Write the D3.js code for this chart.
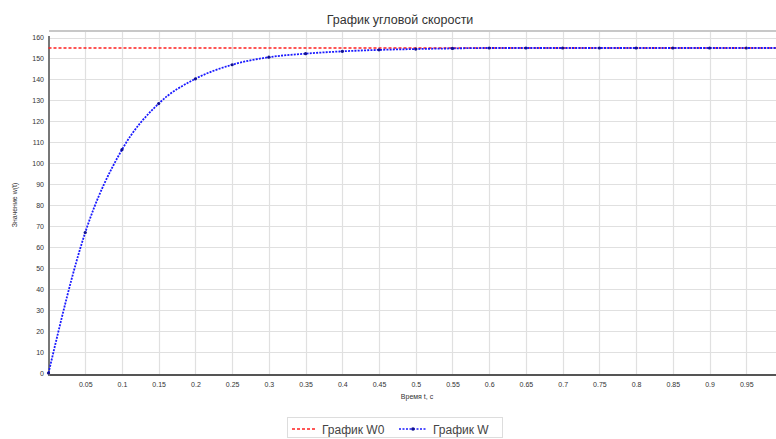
<!DOCTYPE html>
<html>
<head>
<meta charset="utf-8">
<script src="https://cdn.jsdelivr.net/npm/d3@7"></script>
<style>
  html, body { margin: 0; padding: 0; background: #fff; }
  svg { display: block; font-family: "Liberation Sans", Arial, sans-serif; }
</style>
</head>
<body>
<svg id="chart" width="776" height="439"></svg>
<script>
// Angular velocity step response: time (s) and w(t)
const timeValues = [0, 0.05, 0.1, 0.15, 0.2, 0.25, 0.3, 0.35, 0.4, 0.45, 0.5,
                    0.55, 0.6, 0.65, 0.7, 0.75, 0.8, 0.85, 0.9, 0.95, 1.0];
const wValues    = [0, 67, 106.5, 128.5, 140.3, 147, 150.6, 152.3, 153.4, 154.1, 154.5,
                    154.8, 155, 155, 155, 155, 155, 155, 155, 155, 155];
// Reference (steady-state) level W0
const w0Value = 155;
const xTicks = [0.05, 0.1, 0.15, 0.2, 0.25, 0.3, 0.35, 0.4, 0.45, 0.5,
                0.55, 0.6, 0.65, 0.7, 0.75, 0.8, 0.85, 0.9, 0.95];
const xTickLabels = ["0.05", "0.1", "0.15", "0.2", "0.25", "0.3", "0.35", "0.4", "0.45", "0.5",
                     "0.55", "0.6", "0.65", "0.7", "0.75", "0.8", "0.85", "0.9", "0.95"];
const yTicks = [0, 10, 20, 30, 40, 50, 60, 70, 80, 90, 100, 110, 120, 130, 140, 150, 160];
const titleText = "График угловой скорости";
const xTitle = "Время t, с";
const yTitle = "Значение w(t)";
const seriesNames = ["График W0", "График W"];

const svg = d3.select("#chart");
const W = 776;
const x = d3.scaleLinear().domain([0, 1]).range([48.5, 783]);
const y = d3.scaleLinear().domain([0, 160]).range([373, 37.5]);
const plotTop = 31, plotBottom = 375, plotLeft = 49;

// grid
const grid = svg.append("g");
grid.selectAll("line.v").data(xTicks).join("line")
  .attr("x1", d => Math.round(x(d)) + 0.5).attr("x2", d => Math.round(x(d)) + 0.5)
  .attr("y1", plotTop).attr("y2", plotBottom)
  .attr("stroke", "#e0e0e0").attr("stroke-width", 1.2);
grid.selectAll("line.h").data(yTicks.filter(d => d > 0)).join("line")
  .attr("x1", plotLeft).attr("x2", W)
  .attr("y1", d => Math.round(y(d)) + 0.5).attr("y2", d => Math.round(y(d)) + 0.5)
  .attr("stroke", "#e0e0e0").attr("stroke-width", 1.2);

// top border
svg.append("line").attr("x1", plotLeft).attr("x2", W).attr("y1", plotTop).attr("y2", plotTop)
  .attr("stroke", "#c8c8c8").attr("stroke-width", 2);

// axes
const xAxis = d3.axisBottom(x).tickValues(xTicks).tickSize(0).tickPadding(7)
  .tickFormat((d, i) => xTickLabels[i]);
const gx = svg.append("g").attr("transform", `translate(0,${plotBottom})`).call(xAxis);
gx.select(".domain").remove();
gx.selectAll("text").attr("font-size", 7).attr("fill", "#333").attr("font-family", "Liberation Sans, Arial, sans-serif");

const yAxis = d3.axisLeft(y).tickValues(yTicks).tickSize(0).tickPadding(5);
const gy = svg.append("g").attr("transform", `translate(${plotLeft},0)`).call(yAxis);
gy.select(".domain").remove();
gy.selectAll("text").attr("font-size", 7).attr("fill", "#333").attr("font-family", "Liberation Sans, Arial, sans-serif");

svg.append("line").attr("x1", plotLeft).attr("x2", W).attr("y1", plotBottom).attr("y2", plotBottom)
  .attr("stroke", "#555").attr("stroke-width", 2);
svg.append("line").attr("x1", plotLeft).attr("x2", plotLeft).attr("y1", 36).attr("y2", plotBottom + 1)
  .attr("stroke", "#777").attr("stroke-width", 2);

// W0 reference line
svg.append("line")
  .attr("x1", x(0)).attr("x2", W)
  .attr("y1", y(w0Value)).attr("y2", y(w0Value))
  .attr("stroke", "#ff2020").attr("stroke-width", 1.6).attr("stroke-dasharray", "3,2");

// W series
const pts = timeValues.map((t, i) => [t, wValues[i]]);
const line = d3.line().x(d => x(d[0])).y(d => y(d[1])).curve(d3.curveMonotoneX);
svg.append("path").datum(pts).attr("d", line)
  .attr("fill", "none").attr("stroke", "#1a1aff").attr("stroke-width", 1.8)
  .attr("stroke-dasharray", "2,1.2");
svg.selectAll("circle.m").data(pts).join("circle")
  .attr("cx", d => x(d[0])).attr("cy", d => y(d[1])).attr("r", 1.6)
  .attr("fill", "#101090");

// titles
svg.append("text").attr("x", 400).attr("y", 24).attr("text-anchor", "middle")
  .attr("font-size", 12.5).attr("fill", "#333").text(titleText);
svg.append("text").attr("x", 417).attr("y", 399).attr("text-anchor", "middle")
  .attr("font-size", 7).attr("fill", "#333").text(xTitle);
svg.append("text").attr("transform", "translate(17,205) rotate(-90)").attr("text-anchor", "middle")
  .attr("font-size", 7).attr("fill", "#333").text(yTitle);

// legend
const lg = svg.append("g");
lg.append("rect").attr("x", 287.5).attr("y", 417.5).attr("width", 215).attr("height", 20)
  .attr("fill", "#fff").attr("stroke", "#ddd");
lg.append("line").attr("x1", 292).attr("x2", 315).attr("y1", 429).attr("y2", 429)
  .attr("stroke", "#ff2020").attr("stroke-width", 1.6).attr("stroke-dasharray", "3,2");
lg.append("text").attr("x", 322).attr("y", 433.5).attr("font-size", 12).attr("fill", "#444").text(seriesNames[0]);
lg.append("line").attr("x1", 399).attr("x2", 427).attr("y1", 429).attr("y2", 429)
  .attr("stroke", "#1a1aff").attr("stroke-width", 1.6).attr("stroke-dasharray", "2,1.5");
lg.append("circle").attr("cx", 413).attr("cy", 429).attr("r", 1.8).attr("fill", "#101090");
lg.append("text").attr("x", 433).attr("y", 433.5).attr("font-size", 12).attr("fill", "#444").text(seriesNames[1]);
</script>
</body>
</html>
